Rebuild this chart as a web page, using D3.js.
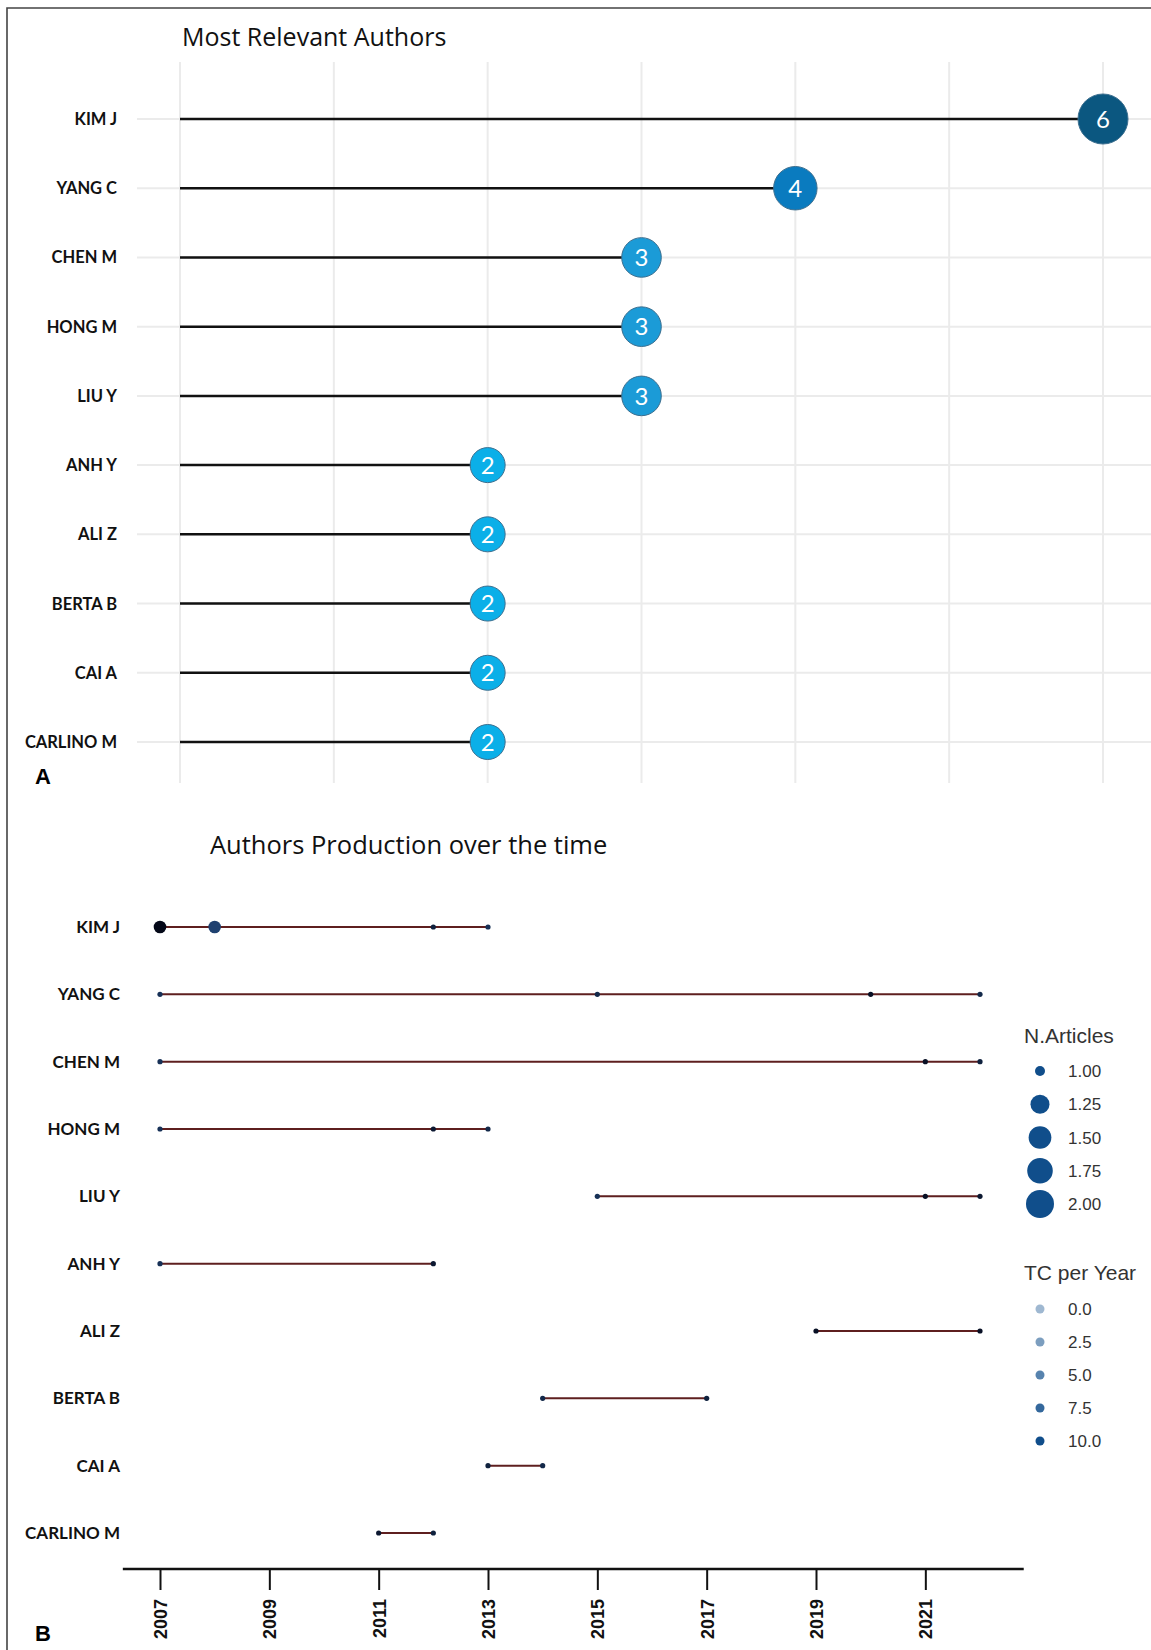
<!DOCTYPE html>
<html>
<head>
<meta charset="utf-8">
<script src="https://cdn.jsdelivr.net/npm/d3@7"></script>
<style>
  body { margin: 0; background: #fff; }
  svg { display: block; }
</style>
</head>
<body>
<div id="chart"></div>
<script>
// panel A: most relevant authors
const authors = ["KIM J", "YANG C", "CHEN M", "HONG M", "LIU Y", "ANH Y", "ALI Z", "BERTA B", "CAI A", "CARLINO M"];
const nDocs = [6, 4, 3, 3, 3, 2, 2, 2, 2, 2];
const docTicks = [0, 1, 2, 3, 4, 5, 6];

// panel B: production over time (one entry per point)
const prodAuthor = ["KIM J", "KIM J", "KIM J", "KIM J",
  "YANG C", "YANG C", "YANG C", "YANG C",
  "CHEN M", "CHEN M", "CHEN M",
  "HONG M", "HONG M", "HONG M",
  "LIU Y", "LIU Y", "LIU Y",
  "ANH Y", "ANH Y",
  "ALI Z", "ALI Z",
  "BERTA B", "BERTA B",
  "CAI A", "CAI A",
  "CARLINO M", "CARLINO M"];
const prodYear = [2007, 2008, 2012, 2013,
  2007, 2015, 2020, 2022,
  2007, 2021, 2022,
  2007, 2012, 2013,
  2015, 2021, 2022,
  2007, 2012,
  2019, 2022,
  2014, 2017,
  2013, 2014,
  2011, 2012];
const prodArticles = [2, 2, 1, 1,
  1, 1, 1, 1,
  1, 1, 1,
  1, 1, 1,
  1, 1, 1,
  1, 1,
  1, 1,
  1, 1,
  1, 1,
  1, 1];
const prodTC = [10, 3, 7, 5,
  5, 6, 9, 6,
  5, 9, 7,
  5, 8, 6,
  5, 9, 8,
  5, 8,
  9, 9,
  6, 7,
  7, 6,
  8, 7];
const yearTicks = [2007, 2009, 2011, 2013, 2015, 2017, 2019, 2021];
const sizeLegend = [1.00, 1.25, 1.50, 1.75, 2.00];
const tcLegend = [0.0, 2.5, 5.0, 7.5, 10.0];

const W = 1151, H = 1650;
const svg = d3.select("#chart").append("svg")
  .attr("width", W).attr("height", H);

// frame (top and left edge)
svg.append("path")
  .attr("d", `M7,${H}V8H${W}`)
  .attr("fill", "none").attr("stroke", "#444").attr("stroke-width", 1.6);

const labelFont = "Lato, 'Open Sans', sans-serif";
const titleFont = "'Open Sans', Lato, sans-serif";

// ---------- Panel A ----------
const xA = d3.scaleLinear().domain([0, 6]).range([180, 1103]);
const yA = d3.scalePoint().domain(authors).range([119, 742]);
const rA = d3.scaleSqrt().domain([2, 6]).range([17.5, 25]);
const cA = d3.scaleLinear().domain([2, 3, 4, 6])
  .range(["#0bafe8", "#1b9bd7", "#0a7bbf", "#0b5780"]);

const gA = svg.append("g");

gA.append("text")
  .attr("x", 182).attr("y", 46)
  .attr("font-family", titleFont).attr("font-size", 25)
  .attr("fill", "#111")
  .text("Most Relevant Authors");

gA.selectAll(".vgrid").data(docTicks).join("line")
  .attr("x1", d => xA(d)).attr("x2", d => xA(d))
  .attr("y1", 62).attr("y2", 783)
  .attr("stroke", "#ebebeb").attr("stroke-width", 2);

gA.selectAll(".hgrid").data(authors).join("line")
  .attr("x1", 137).attr("x2", W)
  .attr("y1", d => yA(d)).attr("y2", d => yA(d))
  .attr("stroke", "#ebebeb").attr("stroke-width", 2);

gA.selectAll(".lab").data(authors).join("text")
  .attr("x", 117).attr("y", d => yA(d) + 6)
  .attr("text-anchor", "end")
  .attr("font-family", labelFont).attr("font-weight", 700).attr("font-size", 16.5)
  .attr("fill", "#111")
  .text(d => d);

const lolli = authors.map((a, i) => ({ a, v: nDocs[i] }));

gA.selectAll(".seg").data(lolli).join("line")
  .attr("x1", xA(0)).attr("x2", d => xA(d.v))
  .attr("y1", d => yA(d.a)).attr("y2", d => yA(d.a))
  .attr("stroke", "#111").attr("stroke-width", 2.5);

gA.selectAll(".bub").data(lolli).join("circle")
  .attr("cx", d => xA(d.v)).attr("cy", d => yA(d.a))
  .attr("r", d => rA(d.v))
  .attr("fill", d => cA(d.v))
  .attr("stroke", "#3d6f8f").attr("stroke-width", 1);

gA.selectAll(".num").data(lolli).join("text")
  .attr("x", d => xA(d.v)).attr("y", d => yA(d.a))
  .attr("dy", "0.36em")
  .attr("text-anchor", "middle")
  .attr("font-family", labelFont).attr("font-size", 24)
  .attr("fill", "#fff")
  .text(d => d.v);

gA.append("text")
  .attr("x", 35).attr("y", 784)
  .attr("font-family", "'Liberation Sans', Arial, sans-serif")
  .attr("font-weight", 700).attr("font-size", 22)
  .text("A");

// ---------- Panel B ----------
const xB = d3.scaleLinear().domain([2007, 2022]).range([160, 980]);
const yB = d3.scalePoint().domain(authors).range([927, 1533]);
const rB = d3.scaleLinear().domain([1, 2]).range([0, 1]);
const rBsize = d3.scaleSqrt().domain([0, 1]).range([2.6, 6.3]);
const cB = d3.scaleLinear().domain([0, 10]).range(["#2a5a95", "#040818"]);

const gB = svg.append("g");

gB.append("text")
  .attr("x", 210).attr("y", 854)
  .attr("font-family", titleFont).attr("font-size", 25.5)
  .attr("fill", "#111")
  .text("Authors Production over the time");

gB.selectAll(".lab").data(authors).join("text")
  .attr("x", 120).attr("y", d => yB(d) + 6)
  .attr("text-anchor", "end")
  .attr("font-family", labelFont).attr("font-weight", 700).attr("font-size", 17)
  .attr("fill", "#111")
  .text(d => d);

const pts = prodAuthor.map((a, i) => ({
  a, year: prodYear[i], n: prodArticles[i], tc: prodTC[i]
}));
const byAuthor = d3.group(pts, d => d.a);

const line = d3.line()
  .x(d => xB(d.year))
  .y(d => yB(d.a));

gB.selectAll(".prod").data(Array.from(byAuthor.values())).join("path")
  .attr("d", d => line(d.slice().sort((p, q) => p.year - q.year)))
  .attr("fill", "none")
  .attr("stroke", "#5e1f1f").attr("stroke-width", 2);

gB.selectAll(".pt").data(pts).join("circle")
  .attr("cx", d => xB(d.year)).attr("cy", d => yB(d.a))
  .attr("r", d => rBsize(rB(d.n)))
  .attr("fill", d => cB(d.tc));

// x axis
const axisY = 1569;
gB.append("line")
  .attr("x1", xB(2006.32)).attr("x2", xB(2022.8))
  .attr("y1", axisY).attr("y2", axisY)
  .attr("stroke", "#111").attr("stroke-width", 2.5);

gB.append("g")
  .attr("transform", `translate(0,${axisY})`)
  .call(d3.axisBottom(xB).tickValues(yearTicks).tickSize(21).tickFormat(d3.format("d")))
  .call(g => g.select(".domain").remove())
  .call(g => g.selectAll(".tick line").attr("stroke", "#111").attr("stroke-width", 2))
  .call(g => g.selectAll(".tick text")
    .attr("transform", "rotate(-90)")
    .attr("text-anchor", "end")
    .attr("x", -30).attr("y", 0).attr("dy", "0.36em")
    .attr("font-family", "'Liberation Sans', Arial, sans-serif")
    .attr("font-weight", 700).attr("font-size", 18)
    .attr("fill", "#111"));

gB.append("text")
  .attr("x", 35).attr("y", 1641)
  .attr("font-family", "'Liberation Sans', Arial, sans-serif")
  .attr("font-weight", 700).attr("font-size", 22)
  .text("B");

// legends
const legFont = "'Liberation Sans', Arial, sans-serif";
const rLeg = d3.scaleSqrt().domain([0, 1]).range([5, 14]);
const aLeg = d3.scaleLinear().domain([0, 10]).range([0.4, 1]);

const gL = svg.append("g");
gL.append("text")
  .attr("x", 1024).attr("y", 1043)
  .attr("font-family", legFont).attr("font-size", 21).attr("fill", "#333")
  .text("N.Articles");

const sizeY = d3.scalePoint().domain(sizeLegend).range([1071, 1204]);
gL.selectAll(".sz").data(sizeLegend).join("circle")
  .attr("cx", 1040).attr("cy", d => sizeY(d))
  .attr("r", d => rLeg(rB(d)))
  .attr("fill", "#104e8b");
gL.selectAll(".szt").data(sizeLegend).join("text")
  .attr("x", 1068).attr("y", d => sizeY(d) + 6)
  .attr("font-family", legFont).attr("font-size", 17).attr("fill", "#333")
  .text(d => d.toFixed(2));

gL.append("text")
  .attr("x", 1024).attr("y", 1280)
  .attr("font-family", legFont).attr("font-size", 21).attr("fill", "#333")
  .text("TC per Year");

const tcY = d3.scalePoint().domain(tcLegend).range([1309, 1441]);
gL.selectAll(".tc").data(tcLegend).join("circle")
  .attr("cx", 1040).attr("cy", d => tcY(d))
  .attr("r", 4.5)
  .attr("fill", "#104e8b")
  .attr("fill-opacity", d => aLeg(d));
gL.selectAll(".tct").data(tcLegend).join("text")
  .attr("x", 1068).attr("y", d => tcY(d) + 6)
  .attr("font-family", legFont).attr("font-size", 17).attr("fill", "#333")
  .text(d => d.toFixed(1));
</script>
</body>
</html>
